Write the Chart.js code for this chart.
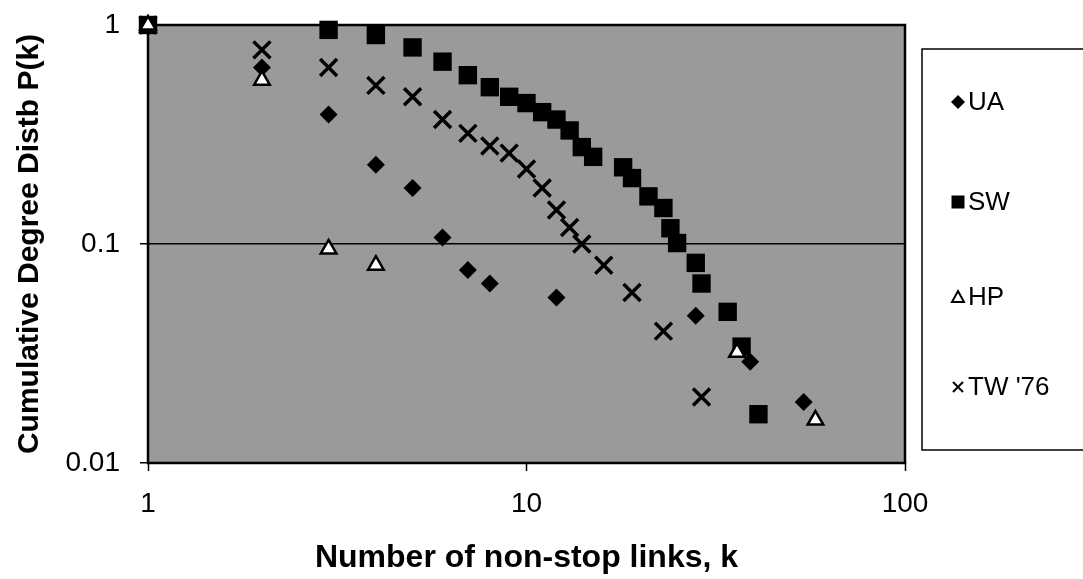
<!DOCTYPE html>
<html>
<head>
<meta charset="utf-8">
<script src="https://cdn.jsdelivr.net/npm/chart.js@4/dist/chart.umd.min.js"></script>
<style>
body { margin: 0; background: #fff; }
#wrap { width: 1083px; height: 579px; position: relative; }
</style>
</head>
<body>
<div id="wrap"><canvas id="degc"></canvas></div>
<script>
// Data

var seriesNames = ["UA", "SW", "HP", "TW '76"];

var uaK = [1, 2, 3, 4, 5, 6, 7, 8, 12, 28, 39, 54];
var uaP = [1, 0.64, 0.39, 0.23, 0.18, 0.107, 0.076, 0.066, 0.057, 0.047, 0.029, 0.019];

var swK = [1, 3, 4, 5, 6, 7, 8, 9, 10, 11, 12, 13, 14, 15, 18, 19, 21, 23, 24, 25, 28, 29, 34, 37, 41];
var swP = [1, 0.95, 0.9, 0.79, 0.68, 0.59, 0.52, 0.47, 0.44, 0.4, 0.37, 0.33, 0.277, 0.25, 0.224, 0.2, 0.165, 0.146, 0.118, 0.101, 0.082, 0.066, 0.049, 0.034, 0.0167];

var hpK = [1, 2, 3, 4, 36, 58];
var hpP = [1, 0.56, 0.095, 0.08, 0.032, 0.0157];

var twK = [1, 2, 3, 4, 5, 6, 7, 8, 9, 10, 11, 12, 13, 14, 16, 19, 23, 29];
var twP = [1, 0.77, 0.64, 0.53, 0.47, 0.37, 0.32, 0.28, 0.26, 0.22, 0.18, 0.143, 0.119, 0.1, 0.08, 0.06, 0.04, 0.02];

var xTicks = [1, 10, 100];
var yTicks = [0.01, 0.1, 1];

var fontFam = '"Liberation Sans", Arial, sans-serif';

function pts(ks, ps) {
	return ks.map(function(k, i) { return {x: k, y: ps[i]}; });
}

// plot background + frame
var frame = {
	id: 'frame',
	beforeDraw: function(chart) {
		var a = chart.chartArea, ctx = chart.ctx;
		ctx.save();
		ctx.fillStyle = '#9a9a9a';
		ctx.fillRect(a.left, a.top, a.right - a.left, a.bottom - a.top);
		ctx.restore();
	},
	beforeDatasetsDraw: function(chart) {
		var a = chart.chartArea, ctx = chart.ctx;
		ctx.save();
		ctx.strokeStyle = '#000';
		ctx.lineWidth = 2.5;
		ctx.strokeRect(a.left, a.top, a.right - a.left, a.bottom - a.top);
		ctx.restore();
	}
};

// legend box on the right
function mark(ctx, style, x, y) {
	ctx.save();
	ctx.fillStyle = '#000';
	ctx.strokeStyle = '#000';
	ctx.beginPath();
	if (style == 'diamond') {
		ctx.moveTo(x, y - 7); ctx.lineTo(x + 7, y); ctx.lineTo(x, y + 7); ctx.lineTo(x - 7, y);
		ctx.closePath(); ctx.fill();
	} else if (style == 'square') {
		ctx.fillRect(x - 6.5, y - 6.5, 13, 13);
	} else if (style == 'triangle') {
		ctx.lineWidth = 2;
		ctx.moveTo(x, y - 6); ctx.lineTo(x + 6, y + 5); ctx.lineTo(x - 6, y + 5);
		ctx.closePath(); ctx.fillStyle = '#fff'; ctx.fill(); ctx.stroke();
	} else {
		ctx.lineWidth = 2;
		ctx.moveTo(x - 5, y - 5); ctx.lineTo(x + 5, y + 5);
		ctx.moveTo(x + 5, y - 5); ctx.lineTo(x - 5, y + 5);
		ctx.stroke();
	}
	ctx.restore();
}

var legendBox = {
	id: 'legendBox',
	afterDraw: function(chart) {
		var ctx = chart.ctx;
		var styles = ['diamond', 'square', 'triangle', 'cross'];
		var rows = [102, 202, 297, 387];
		ctx.save();
		ctx.fillStyle = '#fff';
		ctx.fillRect(922, 49, 170, 401);
		ctx.strokeStyle = '#000';
		ctx.lineWidth = 1.5;
		ctx.strokeRect(922, 49, 170, 401);
		ctx.font = '26px ' + fontFam;
		ctx.textBaseline = 'middle';
		for (var i = 0; i < seriesNames.length; i++) {
			mark(ctx, styles[i], 958, rows[i]);
			ctx.fillStyle = '#000';
			ctx.fillText(seriesNames[i], 968, rows[i] + 1);
		}
		ctx.restore();
	}
};

new Chart("degc", {
	type: "scatter",
	data: {
		datasets: [{
			label: seriesNames[0],
			data: pts(uaK, uaP),
			pointStyle: 'rectRot',
			pointRadius: 9,
			backgroundColor: '#000',
			borderColor: '#000',
			borderWidth: 0,
			order: 1
		}, {
			label: seriesNames[1],
			data: pts(swK, swP),
			pointStyle: 'rect',
			pointRadius: 13,
			backgroundColor: '#000',
			borderColor: '#000',
			borderWidth: 0,
			order: 3
		}, {
			label: seriesNames[2],
			data: pts(hpK, hpP),
			pointStyle: 'triangle',
			pointRadius: 9,
			backgroundColor: '#fff',
			borderColor: '#000',
			borderWidth: 2.5,
			order: 0
		}, {
			label: seriesNames[3],
			data: pts(twK, twP),
			pointStyle: 'crossRot',
			pointRadius: 12,
			backgroundColor: '#000',
			borderColor: '#000',
			borderWidth: 3.5,
			order: 2
		}]
	},
	options: {
		responsive: true,
		maintainAspectRatio: false,
		animation: false,
		clip: false,
		layout: {padding: {top: 25, right: 178, left: 0, bottom: 0}},
		plugins: {
			legend: {display: false},
			tooltip: {enabled: false}
		},
		scales: {
			x: {
				type: 'logarithmic',
				min: 1,
				max: 100,
				afterBuildTicks: function(s) { s.ticks = xTicks.map(function(v) { return {value: v}; }); },
				afterFit: function(s) { s.height = 116; s.paddingLeft = 0; s.paddingRight = 0; },
				ticks: {
					color: '#000',
					padding: 16,
					maxRotation: 0,
					font: {family: fontFam, size: 28},
					callback: function(v) { return String(v); }
				},
				grid: {drawOnChartArea: false, tickLength: 8, tickColor: '#000', tickWidth: 1.5},
				border: {display: false},
				title: {
					display: true,
					text: 'Number of non-stop links, k',
					color: '#000',
					padding: {top: 0, bottom: 2},
					font: {family: fontFam, size: 32, weight: 'bold'}
				}
			},
			y: {
				type: 'logarithmic',
				min: 0.01,
				max: 1,
				afterBuildTicks: function(s) { s.ticks = yTicks.map(function(v) { return {value: v}; }); },
				afterFit: function(s) { s.width = 148; s.paddingTop = 0; s.paddingBottom = 0; },
				ticks: {
					color: '#000',
					padding: 20,
					font: {family: fontFam, size: 28},
					callback: function(v) { return String(v); }
				},
				grid: {
					color: function(c) { return c.tick && c.tick.value === 0.1 ? '#000' : 'rgba(0,0,0,0)'; },
					lineWidth: 1.5,
					tickLength: 8,
					tickColor: '#000',
					tickWidth: 1.5
				},
				border: {display: false},
				title: {
					display: true,
					text: 'Cumulative Degree Distb P(k)',
					color: '#000',
					padding: {top: 12, bottom: 0},
					font: {family: fontFam, size: 30, weight: 'bold'}
				}
			}
		}
	},
	plugins: [frame, legendBox]
});
</script>
</body>
</html>
